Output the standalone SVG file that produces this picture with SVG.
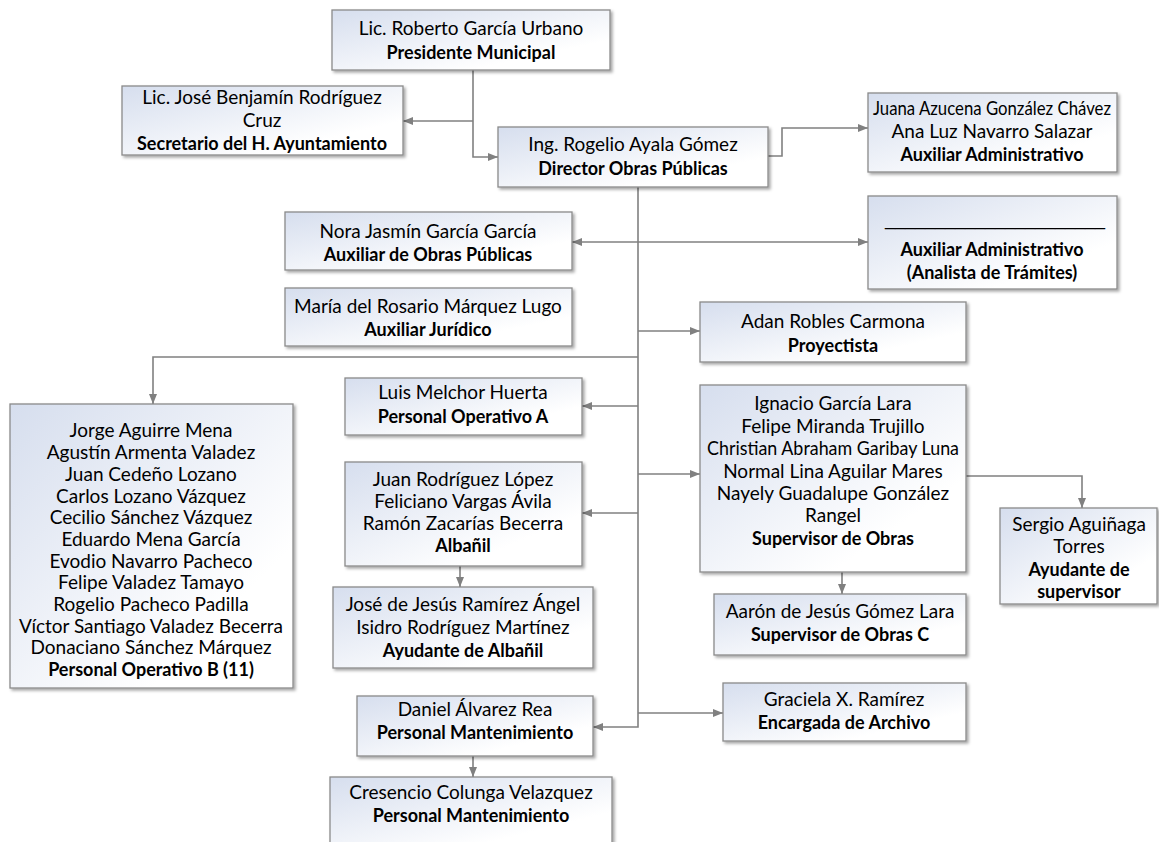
<svg xmlns="http://www.w3.org/2000/svg" width="1159" height="842" viewBox="0 0 1159 842">
<defs>
<linearGradient id="g" x1="0" y1="0" x2="1" y2="1">
<stop offset="0" stop-color="#d6deee"/>
<stop offset="0.75" stop-color="#ffffff"/>
</linearGradient>
<filter id="sh" x="-5%" y="-5%" width="115%" height="120%">
<feDropShadow dx="2" dy="2" stdDeviation="1.5" flood-color="#000" flood-opacity="0.35"/>
</filter>
<marker id="ah" markerWidth="10" markerHeight="8" refX="10" refY="4" orient="auto" markerUnits="userSpaceOnUse">
<path d="M0,0 L10,4 L0,8 Z" fill="#808080"/>
</marker>
<marker id="as" markerWidth="10" markerHeight="8" refX="0" refY="4" orient="auto" markerUnits="userSpaceOnUse">
<path d="M10,0 L0,4 L10,8 Z" fill="#808080"/>
</marker>
</defs>
<style>
.b{fill:url(#g);stroke:#8a8a8a;stroke-width:1.3;filter:url(#sh)}
text{font-family:Lato,"Noto Sans","Liberation Sans",sans-serif;font-size:19px;fill:#000;text-anchor:middle}
.t{font-weight:bold;font-size:18px}
.u{font-family:"Liberation Sans",Arial,sans-serif;font-size:18px}
.c{fill:none;stroke:#808080;stroke-width:1.6}
</style>
<rect width="1159" height="842" fill="#fff"/>
<g id="connectors">
<path class="c" d="M473,70 V157 H498" marker-end="url(#ah)"/>
<path class="c" d="M473,121 H403" marker-end="url(#ah)"/>
<path class="c" d="M768,156 H782 V128 H868" marker-end="url(#ah)"/>
<path class="c" d="M638,187 V727 H593" marker-end="url(#ah)"/>
<path class="c" d="M572,242 H868" marker-start="url(#as)" marker-end="url(#ah)"/>
<path class="c" d="M638,331 H700" marker-end="url(#ah)"/>
<path class="c" d="M638,357 H153 V404" marker-end="url(#ah)"/>
<path class="c" d="M638,406 H582" marker-end="url(#ah)"/>
<path class="c" d="M638,474 H700" marker-end="url(#ah)"/>
<path class="c" d="M638,513 H582" marker-end="url(#ah)"/>
<path class="c" d="M460,566 V587" marker-end="url(#ah)"/>
<path class="c" d="M638,713 H723" marker-end="url(#ah)"/>
<path class="c" d="M473,756 V777" marker-end="url(#ah)"/>
<path class="c" d="M966,476 H1082 V508" marker-end="url(#ah)"/>
<path class="c" d="M842,572 V594" marker-end="url(#ah)"/>
</g>
<g id="presidente"><rect class="b" x="332" y="10" width="278" height="60"/>
<text x="471" y="35">Lic. Roberto García Urbano</text><text class="t" x="471" y="59">Presidente Municipal</text></g>
<g id="secretario"><rect class="b" x="122" y="86" width="281" height="69"/>
<text x="262" y="104">Lic. José Benjamín Rodríguez</text><text x="262" y="127">Cruz</text><text class="t" x="262" y="150">Secretario del H. Ayuntamiento</text></g>
<g id="director"><rect class="b" x="498" y="127" width="270" height="60"/>
<text x="633" y="151">Ing. Rogelio Ayala Gómez</text><text class="t" x="633" y="175">Director Obras Públicas</text></g>
<g id="auxadmin"><rect class="b" x="868" y="93" width="249" height="79"/>
<text x="992" y="115" textLength="238" lengthAdjust="spacingAndGlyphs">Juana Azucena González Chávez</text><text x="992" y="138">Ana Luz Navarro Salazar</text><text class="t" x="992" y="161">Auxiliar Administrativo</text></g>
<g id="analista"><rect class="b" x="868" y="196" width="249" height="93"/>
<text class="u" x="995" y="225">______________________</text><text class="t" x="992" y="256">Auxiliar Administrativo</text><text class="t" x="992" y="279">(Analista de Trámites)</text></g>
<g id="nora"><rect class="b" x="285" y="212" width="287" height="58"/>
<text x="428" y="238">Nora Jasmín García García</text><text class="t" x="428" y="261">Auxiliar de Obras Públicas</text></g>
<g id="maria"><rect class="b" x="285" y="288" width="287" height="58"/>
<text x="428" y="313">María del Rosario Márquez Lugo</text><text class="t" x="428" y="336">Auxiliar Jurídico</text></g>
<g id="adan"><rect class="b" x="700" y="302" width="266" height="60"/>
<text x="833" y="328">Adan Robles Carmona</text><text class="t" x="833" y="352">Proyectista</text></g>
<g id="operativob"><rect class="b" x="10" y="404" width="283" height="284"/>
<text x="151" y="437">Jorge Aguirre Mena</text>
<text x="151" y="459">Agustín Armenta Valadez</text>
<text x="151" y="481">Juan Cedeño Lozano</text>
<text x="151" y="503">Carlos Lozano Vázquez</text>
<text x="151" y="524">Cecilio Sánchez Vázquez</text>
<text x="151" y="546">Eduardo Mena García</text>
<text x="151" y="568">Evodio Navarro Pacheco</text>
<text x="151" y="589">Felipe Valadez Tamayo</text>
<text x="151" y="611">Rogelio Pacheco Padilla</text>
<text x="151" y="633">Víctor Santiago Valadez Becerra</text>
<text x="151" y="654">Donaciano Sánchez Márquez</text>
<text class="t" x="151" y="676">Personal Operativo B (11)</text></g>
<g id="luis"><rect class="b" x="345" y="378" width="237" height="57"/>
<text x="463" y="399">Luis Melchor Huerta</text><text class="t" x="463" y="423">Personal Operativo A</text></g>
<g id="albanil"><rect class="b" x="345" y="462" width="237" height="104"/>
<text x="463" y="486">Juan Rodríguez López</text><text x="463" y="508">Feliciano Vargas Ávila</text><text x="463" y="530">Ramón Zacarías Becerra</text><text class="t" x="463" y="552">Albañil</text></g>
<g id="ayudantealbanil"><rect class="b" x="333" y="587" width="260" height="81"/>
<text x="463" y="611">José de Jesús Ramírez Ángel</text><text x="463" y="634">Isidro Rodríguez Martínez</text><text class="t" x="463" y="657">Ayudante de Albañil</text></g>
<g id="daniel"><rect class="b" x="357" y="696" width="236" height="60"/>
<text x="475" y="716">Daniel Álvarez Rea</text><text class="t" x="475" y="739">Personal Mantenimiento</text></g>
<g id="cresencio"><rect class="b" x="330" y="777" width="282" height="70"/>
<text x="471" y="799">Cresencio Colunga Velazquez</text><text class="t" x="471" y="822">Personal Mantenimiento</text></g>
<g id="supervisor"><rect class="b" x="700" y="385" width="266" height="187"/>
<text x="833" y="410">Ignacio García Lara</text>
<text x="833" y="433">Felipe Miranda Trujillo</text>
<text x="833" y="455" textLength="252" lengthAdjust="spacingAndGlyphs">Christian Abraham Garibay Luna</text>
<text x="833" y="478">Normal Lina Aguilar Mares</text>
<text x="833" y="500">Nayely Guadalupe González</text>
<text x="833" y="522">Rangel</text>
<text class="t" x="833" y="545">Supervisor de Obras</text></g>
<g id="sergio"><rect class="b" x="1000" y="508" width="157" height="96"/>
<text x="1079" y="531">Sergio Aguiñaga</text><text x="1079" y="553">Torres</text><text class="t" x="1079" y="576">Ayudante de</text><text class="t" x="1079" y="598">supervisor</text></g>
<g id="aaron"><rect class="b" x="714" y="594" width="252" height="61"/>
<text x="840" y="618">Aarón de Jesús Gómez Lara</text><text class="t" x="840" y="641">Supervisor de Obras C</text></g>
<g id="graciela"><rect class="b" x="723" y="683" width="243" height="58"/>
<text x="844" y="706">Graciela X. Ramírez</text><text class="t" x="844" y="729">Encargada de Archivo</text></g>
</svg>
